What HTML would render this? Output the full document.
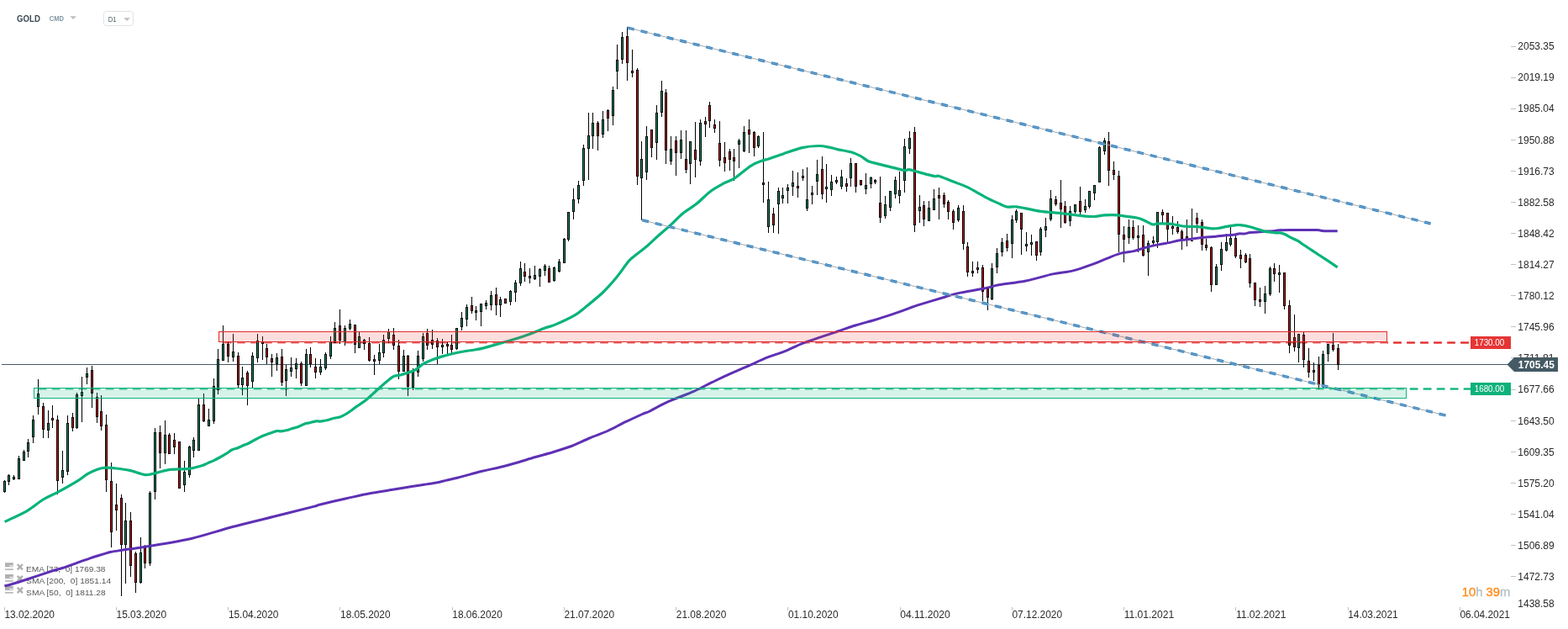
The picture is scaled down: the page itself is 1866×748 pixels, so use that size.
<!DOCTYPE html>
<html lang="en"><head><meta charset="utf-8"><title>GOLD D1</title>
<style>html,body{margin:0;padding:0;background:#fff;}body{width:1866px;height:748px;overflow:hidden;}svg{display:block;font-family:"Liberation Sans", sans-serif;}</style></head><body>
<svg width="1866" height="748" viewBox="0 0 1866 748">
<rect width="1866" height="748" fill="#fff"/>
<g id="legend" font-size="9.7" fill="#585858">
<g fill="#b0b0b0"><rect x="6" y="669.2" width="9.8" height="5.1"/><rect x="6" y="676.4" width="9.8" height="1.5"/></g>
<rect x="11.3" y="672.4" width="4.5" height="1" fill="#fff"/>
<path d="M20.7 671.0l6.2 6.4M26.9 671.0l-6.2 6.4" stroke="#b0b0b0" stroke-width="2.5" fill="none"/>
<text x="31.1" y="679.9" xml:space="preserve" textLength="94.4" lengthAdjust="spacingAndGlyphs">EMA [33,  0] 1769.38</text>
<g fill="#b0b0b0"><rect x="6" y="683.0" width="9.8" height="5.1"/><rect x="6" y="690.2" width="9.8" height="1.5"/></g>
<rect x="11.3" y="686.2" width="4.5" height="1" fill="#fff"/>
<path d="M20.7 684.8l6.2 6.4M26.9 684.8l-6.2 6.4" stroke="#b0b0b0" stroke-width="2.5" fill="none"/>
<text x="31.1" y="693.7" xml:space="preserve" textLength="101" lengthAdjust="spacingAndGlyphs">SMA [200,  0] 1851.14</text>
<g fill="#b0b0b0"><rect x="6" y="696.9" width="9.8" height="5.1"/><rect x="6" y="704.1" width="9.8" height="1.5"/></g>
<rect x="11.3" y="700.1" width="4.5" height="1" fill="#fff"/>
<path d="M20.7 698.7l6.2 6.4M26.9 698.7l-6.2 6.4" stroke="#b0b0b0" stroke-width="2.5" fill="none"/>
<text x="31.1" y="707.6" xml:space="preserve" textLength="94.6" lengthAdjust="spacingAndGlyphs">SMA [50,  0] 1811.28</text>
</g>
<line x1="261" y1="407.5" x2="1750" y2="407.5" stroke="#e32b2b" stroke-width="2" stroke-dasharray="9.6 6.4" stroke-dashoffset="-5.2" opacity="0.75"/>
<line x1="1651" y1="407.5" x2="1750" y2="407.5" stroke="#e32b2b" stroke-width="2" stroke-dasharray="9.6 6.4" stroke-dashoffset="8.8"/>
<line x1="41" y1="462.5" x2="1750" y2="462.5" stroke="#10b47c" stroke-width="2" stroke-dasharray="9.6 6.4" stroke-dashoffset="-4.8" opacity="0.75"/>
<line x1="1674" y1="462.5" x2="1750" y2="462.5" stroke="#10b47c" stroke-width="2" stroke-dasharray="9.6 6.4" stroke-dashoffset="12.2"/>
<rect x="2" y="433" width="1793" height="1" fill="#455a64" shape-rendering="crispEdges"/>
<g id="candles" shape-rendering="crispEdges">
<path fill="#000" d="M5 571h1v15h-1zM10 564h1v13h-1zM16 565h1v6h-1zM22 542h1v28h-1zM28 535h1v13h-1zM33 522h1v22h-1zM39 494h1v33h-1zM45 451h1v42h-1zM51 479h1v42h-1zM57 488h1v33h-1zM62 482h1v27h-1zM68 494h1v94h-1zM74 536h1v39h-1zM80 494h1v71h-1zM86 491h1v22h-1zM91 467h1v43h-1zM97 448h1v54h-1zM103 437h1v20h-1zM109 435h1v50h-1zM115 467h1v36h-1zM120 470h1v42h-1zM126 493h1v92h-1zM132 550h1v101h-1zM138 575h1v56h-1zM144 588h1v121h-1zM149 598h1v96h-1zM155 609h1v77h-1zM161 656h1v49h-1zM167 639h1v55h-1zM172 648h1v28h-1zM178 584h1v89h-1zM184 509h1v85h-1zM190 506h1v51h-1zM196 500h1v52h-1zM201 515h1v25h-1zM207 515h1v25h-1zM213 525h1v56h-1zM219 548h1v37h-1zM225 530h1v38h-1zM230 520h1v24h-1zM236 474h1v62h-1zM242 468h1v34h-1zM248 486h1v21h-1zM254 450h1v54h-1zM259 415h1v54h-1zM265 387h1v42h-1zM271 407h1v24h-1zM277 397h1v33h-1zM283 419h1v42h-1zM288 436h1v34h-1zM294 441h1v41h-1zM300 419h1v42h-1zM306 397h1v34h-1zM312 400h1v28h-1zM317 409h1v24h-1zM323 421h1v27h-1zM329 420h1v21h-1zM335 415h1v44h-1zM340 434h1v37h-1zM346 425h1v23h-1zM352 426h1v24h-1zM358 430h1v29h-1zM364 415h1v44h-1zM369 413h1v24h-1zM375 426h1v24h-1zM381 427h1v19h-1zM387 419h1v21h-1zM393 400h1v27h-1zM398 383h1v25h-1zM404 368h1v41h-1zM410 387h1v24h-1zM416 380h1v13h-1zM422 386h1v34h-1zM427 395h1v19h-1zM433 403h1v13h-1zM439 401h1v29h-1zM445 422h1v24h-1zM451 409h1v24h-1zM456 398h1v27h-1zM462 391h1v17h-1zM468 390h1v26h-1zM474 404h1v47h-1zM480 416h1v26h-1zM485 422h1v49h-1zM491 438h1v26h-1zM497 417h1v31h-1zM503 396h1v34h-1zM508 391h1v25h-1zM514 392h1v23h-1zM520 402h1v31h-1zM526 403h1v18h-1zM532 407h1v15h-1zM537 398h1v22h-1zM543 390h1v26h-1zM549 371h1v22h-1zM555 362h1v26h-1zM561 353h1v20h-1zM566 364h1v17h-1zM572 361h1v27h-1zM578 357h1v11h-1zM584 346h1v23h-1zM590 342h1v33h-1zM595 353h1v24h-1zM601 355h1v6h-1zM607 345h1v18h-1zM613 333h1v26h-1zM619 311h1v29h-1zM624 313h1v22h-1zM630 319h1v18h-1zM636 316h1v17h-1zM642 319h1v22h-1zM648 314h1v14h-1zM653 316h1v20h-1zM659 317h1v18h-1zM665 308h1v16h-1zM671 283h1v30h-1zM676 252h1v35h-1zM682 224h1v37h-1zM688 215h1v27h-1zM694 172h1v49h-1zM700 134h1v80h-1zM705 134h1v43h-1zM711 144h1v35h-1zM717 132h1v32h-1zM723 130h1v26h-1zM729 103h1v46h-1zM734 53h1v53h-1zM740 38h1v38h-1zM746 32h1v64h-1zM752 59h1v33h-1zM758 81h1v139h-1zM763 168h1v94h-1zM769 150h1v64h-1zM775 154h1v33h-1zM781 125h1v65h-1zM787 96h1v43h-1zM792 106h1v89h-1zM798 162h1v34h-1zM804 162h1v47h-1zM810 155h1v34h-1zM816 155h1v51h-1zM821 168h1v51h-1zM827 145h1v66h-1zM833 142h1v55h-1zM839 139h1v24h-1zM844 121h1v31h-1zM850 142h1v16h-1zM856 144h1v54h-1zM862 169h1v35h-1zM868 177h1v26h-1zM873 177h1v38h-1zM879 165h1v35h-1zM885 150h1v31h-1zM891 142h1v40h-1zM897 156h1v30h-1zM902 161h1v15h-1zM908 157h1v84h-1zM914 216h1v61h-1zM920 247h1v30h-1zM926 223h1v55h-1zM931 223h1v19h-1zM937 219h1v23h-1zM943 203h1v30h-1zM949 205h1v30h-1zM955 201h1v14h-1zM960 199h1v52h-1zM966 221h1v22h-1zM972 190h1v42h-1zM978 186h1v51h-1zM983 195h1v46h-1zM989 208h1v25h-1zM995 210h1v9h-1zM1001 202h1v23h-1zM1007 212h1v16h-1zM1012 188h1v34h-1zM1018 194h1v35h-1zM1024 214h1v7h-1zM1030 206h1v25h-1zM1036 210h1v14h-1zM1041 213h1v6h-1zM1047 210h1v55h-1zM1053 233h1v27h-1zM1059 227h1v24h-1zM1065 210h1v26h-1zM1070 204h1v38h-1zM1076 165h1v64h-1zM1082 156h1v27h-1zM1088 151h1v125h-1zM1094 232h1v33h-1zM1099 239h1v30h-1zM1105 239h1v24h-1zM1111 225h1v25h-1zM1117 223h1v38h-1zM1123 229h1v18h-1zM1128 238h1v23h-1zM1134 249h1v24h-1zM1140 244h1v20h-1zM1146 244h1v53h-1zM1151 288h1v41h-1zM1157 311h1v18h-1zM1163 311h1v14h-1zM1169 315h1v43h-1zM1175 341h1v28h-1zM1180 313h1v44h-1zM1186 295h1v30h-1zM1192 283h1v22h-1zM1198 278h1v21h-1zM1204 256h1v51h-1zM1209 249h1v16h-1zM1215 253h1v50h-1zM1221 276h1v23h-1zM1227 279h1v25h-1zM1233 287h1v23h-1zM1238 270h1v34h-1zM1244 259h1v23h-1zM1250 226h1v37h-1zM1256 233h1v12h-1zM1262 214h1v57h-1zM1267 239h1v27h-1zM1273 245h1v24h-1zM1279 243h1v11h-1zM1285 222h1v33h-1zM1291 237h1v16h-1zM1296 227h1v21h-1zM1302 220h1v18h-1zM1308 174h1v43h-1zM1314 164h1v20h-1zM1319 157h1v64h-1zM1325 192h1v22h-1zM1331 203h1v97h-1zM1337 269h1v43h-1zM1343 261h1v29h-1zM1348 262h1v23h-1zM1354 268h1v32h-1zM1360 268h1v37h-1zM1366 286h1v42h-1zM1372 281h1v11h-1zM1377 252h1v43h-1zM1383 249h1v17h-1zM1389 253h1v36h-1zM1395 257h1v22h-1zM1401 263h1v15h-1zM1406 273h1v24h-1zM1412 261h1v32h-1zM1418 248h1v39h-1zM1424 253h1v24h-1zM1430 261h1v37h-1zM1435 284h1v14h-1zM1441 293h1v54h-1zM1447 314h1v25h-1zM1453 288h1v34h-1zM1459 278h1v21h-1zM1464 270h1v23h-1zM1470 280h1v27h-1zM1476 297h1v22h-1zM1482 301h1v12h-1zM1487 302h1v40h-1zM1493 336h1v28h-1zM1499 342h1v23h-1zM1505 340h1v33h-1zM1511 317h1v35h-1zM1516 313h1v22h-1zM1522 315h1v33h-1zM1528 324h1v44h-1zM1534 357h1v63h-1zM1540 374h1v44h-1zM1545 397h1v34h-1zM1551 395h1v42h-1zM1557 414h1v35h-1zM1563 431h1v22h-1zM1569 424h1v39h-1zM1574 417h1v44h-1zM1580 409h1v21h-1zM1586 396h1v22h-1zM1592 409h1v31h-1z"/>
<path fill="#000" d="M4 572h3v13h-3zM9 565h3v8h-3zM15 567h3v3h-3zM21 545h3v25h-3zM27 537h3v11h-3zM32 526h3v11h-3zM38 499h3v21h-3zM44 468h3v16h-3zM50 483h3v28h-3zM56 503h3v9h-3zM61 497h3v3h-3zM67 499h3v73h-3zM73 559h3v9h-3zM79 503h3v58h-3zM85 496h3v13h-3zM90 469h3v40h-3zM96 466h3v5h-3zM102 444h3v5h-3zM108 440h3v28h-3zM114 472h3v24h-3zM119 489h3v18h-3zM125 505h3v66h-3zM131 572h3v61h-3zM137 600h3v7h-3zM143 592h3v56h-3zM148 619h3v29h-3zM154 619h3v54h-3zM160 658h3v35h-3zM166 657h3v36h-3zM171 651h3v19h-3zM177 586h3v84h-3zM183 514h3v71h-3zM189 514h3v25h-3zM195 517h3v22h-3zM200 517h3v23h-3zM206 523h3v9h-3zM212 525h3v56h-3zM218 561h3v16h-3zM224 531h3v34h-3zM229 523h3v13h-3zM235 481h3v55h-3zM241 481h3v20h-3zM247 499h3v8h-3zM253 459h3v42h-3zM258 427h3v37h-3zM264 409h3v20h-3zM270 409h3v15h-3zM276 418h3v7h-3zM282 423h3v35h-3zM287 449h3v9h-3zM293 443h3v16h-3zM299 423h3v31h-3zM305 405h3v21h-3zM311 406h3v3h-3zM316 414h3v11h-3zM322 426h3v5h-3zM328 425h3v8h-3zM334 424h3v31h-3zM339 439h3v14h-3zM345 437h3v5h-3zM351 432h3v7h-3zM357 432h3v24h-3zM363 421h3v38h-3zM368 421h3v12h-3zM374 436h3v7h-3zM380 436h3v7h-3zM386 421h3v17h-3zM392 406h3v18h-3zM397 390h3v18h-3zM403 387h3v18h-3zM409 390h3v17h-3zM415 385h3v6h-3zM421 386h3v24h-3zM426 400h3v14h-3zM432 404h3v5h-3zM438 408h3v21h-3zM444 427h3v3h-3zM450 419h3v10h-3zM455 404h3v16h-3zM461 394h3v9h-3zM467 398h3v13h-3zM473 411h3v31h-3zM479 423h3v19h-3zM484 423h3v37h-3zM490 442h3v19h-3zM496 423h3v20h-3zM502 400h3v27h-3zM507 396h3v15h-3zM513 404h3v6h-3zM519 405h3v8h-3zM525 410h3v3h-3zM531 409h3v3h-3zM536 410h3v6h-3zM542 390h3v25h-3zM548 378h3v11h-3zM554 365h3v15h-3zM560 363h3v7h-3zM565 369h3v3h-3zM571 361h3v10h-3zM577 360h3v4h-3zM583 351h3v12h-3zM589 350h3v13h-3zM594 356h3v7h-3zM600 355h3v6h-3zM606 346h3v13h-3zM612 336h3v12h-3zM618 319h3v18h-3zM623 323h3v6h-3zM629 328h3v3h-3zM635 327h3v5h-3zM641 320h3v9h-3zM647 316h3v6h-3zM652 319h3v17h-3zM658 318h3v16h-3zM664 311h3v12h-3zM670 284h3v29h-3zM675 252h3v33h-3zM681 237h3v15h-3zM687 220h3v17h-3zM693 176h3v39h-3zM699 161h3v16h-3zM704 146h3v16h-3zM710 146h3v16h-3zM716 142h3v18h-3zM722 131h3v10h-3zM728 107h3v31h-3zM733 71h3v14h-3zM739 44h3v27h-3zM745 43h3v32h-3zM751 84h3v3h-3zM757 83h3v127h-3zM762 189h3v23h-3zM768 162h3v43h-3zM774 154h3v22h-3zM780 134h3v36h-3zM786 108h3v26h-3zM791 110h3v69h-3zM797 177h3v15h-3zM803 167h3v15h-3zM809 166h3v16h-3zM815 189h3v13h-3zM820 168h3v27h-3zM826 178h3v12h-3zM832 146h3v46h-3zM838 144h3v4h-3zM843 125h3v19h-3zM849 148h3v5h-3zM855 170h3v21h-3zM861 187h3v7h-3zM867 180h3v10h-3zM872 187h3v5h-3zM878 167h3v5h-3zM884 157h3v23h-3zM890 154h3v6h-3zM896 157h3v19h-3zM901 162h3v12h-3zM907 217h3v3h-3zM913 237h3v33h-3zM919 254h3v14h-3zM925 227h3v16h-3zM930 232h3v4h-3zM936 223h3v4h-3zM942 217h3v5h-3zM948 221h3v3h-3zM954 209h3v3h-3zM959 237h3v11h-3zM965 229h3v3h-3zM971 207h3v9h-3zM977 201h3v30h-3zM982 222h3v3h-3zM988 216h3v10h-3zM994 214h3v3h-3zM1000 210h3v12h-3zM1006 218h3v4h-3zM1011 194h3v18h-3zM1017 194h3v28h-3zM1023 214h3v6h-3zM1029 220h3v5h-3zM1035 211h3v8h-3zM1040 214h3v3h-3zM1046 241h3v18h-3zM1052 243h3v14h-3zM1058 227h3v20h-3zM1064 214h3v17h-3zM1069 226h3v7h-3zM1075 174h3v41h-3zM1081 164h3v13h-3zM1087 157h3v111h-3zM1093 246h3v5h-3zM1098 244h3v17h-3zM1104 247h3v16h-3zM1110 236h3v14h-3zM1116 232h3v4h-3zM1122 232h3v11h-3zM1127 240h3v12h-3zM1133 251h3v14h-3zM1139 247h3v15h-3zM1145 251h3v39h-3zM1150 293h3v31h-3zM1156 322h3v3h-3zM1162 318h3v3h-3zM1168 318h3v29h-3zM1174 343h3v11h-3zM1179 319h3v37h-3zM1185 301h3v17h-3zM1191 288h3v12h-3zM1197 286h3v9h-3zM1203 261h3v29h-3zM1208 251h3v11h-3zM1214 253h3v20h-3zM1220 290h3v3h-3zM1226 288h3v3h-3zM1232 287h3v17h-3zM1237 272h3v28h-3zM1243 269h3v5h-3zM1249 236h3v25h-3zM1255 237h3v6h-3zM1261 241h3v8h-3zM1266 245h3v20h-3zM1272 251h3v12h-3zM1278 243h3v9h-3zM1284 239h3v13h-3zM1290 245h3v5h-3zM1295 227h3v19h-3zM1301 220h3v10h-3zM1307 175h3v42h-3zM1313 167h3v13h-3zM1318 168h3v35h-3zM1324 202h3v6h-3zM1330 209h3v70h-3zM1336 279h3v6h-3zM1342 270h3v13h-3zM1347 270h3v13h-3zM1353 280h3v3h-3zM1359 279h3v25h-3zM1365 289h3v11h-3zM1371 286h3v3h-3zM1376 252h3v36h-3zM1382 252h3v4h-3zM1388 253h3v20h-3zM1394 269h3v3h-3zM1400 270h3v6h-3zM1405 275h3v9h-3zM1411 281h3v4h-3zM1417 286h3v1h-3zM1423 259h3v7h-3zM1429 264h3v27h-3zM1434 291h3v4h-3zM1440 294h3v45h-3zM1446 317h3v22h-3zM1452 296h3v19h-3zM1458 288h3v10h-3zM1463 283h3v8h-3zM1469 283h3v22h-3zM1475 303h3v5h-3zM1481 303h3v9h-3zM1486 307h3v30h-3zM1492 336h3v21h-3zM1498 356h3v3h-3zM1504 349h3v10h-3zM1510 319h3v31h-3zM1515 319h3v7h-3zM1521 324h3v3h-3zM1527 324h3v40h-3zM1533 363h3v48h-3zM1539 401h3v12h-3zM1544 397h3v17h-3zM1550 398h3v30h-3zM1556 429h3v14h-3zM1562 440h3v3h-3zM1568 434h3v24h-3zM1573 421h3v37h-3zM1579 409h3v12h-3zM1585 410h3v6h-3zM1591 414h3v20h-3z"/>
<path fill="#0f9168" d="M5 573h1v11h-1zM10 566h1v6h-1zM16 568h1v1h-1zM22 546h1v23h-1zM28 538h1v9h-1zM33 527h1v9h-1zM39 500h1v19h-1zM45 469h1v14h-1zM57 504h1v7h-1zM74 560h1v7h-1zM80 504h1v56h-1zM91 470h1v38h-1zM97 467h1v3h-1zM103 445h1v3h-1zM149 620h1v27h-1zM167 658h1v34h-1zM178 587h1v82h-1zM184 515h1v69h-1zM196 518h1v20h-1zM219 562h1v14h-1zM225 532h1v32h-1zM230 524h1v11h-1zM236 482h1v53h-1zM248 500h1v6h-1zM254 460h1v40h-1zM259 428h1v35h-1zM265 410h1v18h-1zM277 419h1v5h-1zM288 450h1v7h-1zM300 424h1v29h-1zM306 406h1v19h-1zM329 426h1v6h-1zM340 440h1v12h-1zM346 438h1v3h-1zM352 433h1v5h-1zM364 422h1v36h-1zM381 437h1v5h-1zM387 422h1v15h-1zM393 407h1v16h-1zM398 391h1v16h-1zM410 391h1v15h-1zM416 386h1v4h-1zM427 401h1v12h-1zM451 420h1v8h-1zM456 405h1v14h-1zM462 395h1v7h-1zM480 424h1v17h-1zM491 443h1v17h-1zM497 424h1v18h-1zM503 401h1v25h-1zM526 411h1v1h-1zM543 391h1v23h-1zM549 379h1v9h-1zM555 366h1v13h-1zM566 370h1v1h-1zM572 362h1v8h-1zM578 361h1v2h-1zM584 352h1v10h-1zM595 357h1v5h-1zM607 347h1v11h-1zM613 337h1v10h-1zM619 320h1v16h-1zM636 328h1v3h-1zM642 321h1v7h-1zM648 317h1v4h-1zM659 319h1v14h-1zM665 312h1v10h-1zM671 285h1v27h-1zM676 253h1v31h-1zM682 238h1v13h-1zM688 221h1v15h-1zM694 177h1v37h-1zM700 162h1v14h-1zM705 147h1v14h-1zM717 143h1v16h-1zM729 108h1v29h-1zM734 72h1v12h-1zM740 45h1v25h-1zM763 190h1v21h-1zM769 163h1v41h-1zM781 135h1v34h-1zM787 109h1v24h-1zM798 178h1v13h-1zM810 167h1v14h-1zM821 169h1v25h-1zM833 147h1v44h-1zM879 168h1v3h-1zM885 158h1v21h-1zM902 163h1v10h-1zM914 238h1v31h-1zM926 228h1v14h-1zM931 233h1v2h-1zM937 224h1v2h-1zM943 218h1v3h-1zM960 238h1v9h-1zM966 230h1v1h-1zM972 208h1v7h-1zM983 223h1v1h-1zM989 217h1v8h-1zM1001 211h1v10h-1zM1012 195h1v16h-1zM1030 221h1v3h-1zM1036 212h1v6h-1zM1053 244h1v12h-1zM1059 228h1v18h-1zM1065 215h1v15h-1zM1070 227h1v5h-1zM1076 175h1v39h-1zM1082 165h1v11h-1zM1094 247h1v3h-1zM1105 248h1v14h-1zM1111 237h1v12h-1zM1140 248h1v13h-1zM1180 320h1v35h-1zM1186 302h1v15h-1zM1192 289h1v10h-1zM1204 262h1v27h-1zM1209 252h1v9h-1zM1221 291h1v1h-1zM1227 289h1v1h-1zM1238 273h1v26h-1zM1244 270h1v3h-1zM1250 237h1v23h-1zM1273 252h1v10h-1zM1279 244h1v7h-1zM1291 246h1v3h-1zM1296 228h1v17h-1zM1302 221h1v8h-1zM1308 176h1v40h-1zM1314 168h1v11h-1zM1343 271h1v11h-1zM1354 281h1v1h-1zM1366 290h1v9h-1zM1372 287h1v1h-1zM1377 253h1v34h-1zM1447 318h1v20h-1zM1453 297h1v17h-1zM1459 289h1v8h-1zM1464 284h1v6h-1zM1505 350h1v8h-1zM1511 320h1v29h-1zM1522 325h1v1h-1zM1545 398h1v15h-1zM1574 422h1v35h-1zM1580 410h1v10h-1z"/>
<path fill="#d40000" d="M51 484h1v26h-1zM62 498h1v1h-1zM68 500h1v71h-1zM86 497h1v11h-1zM109 441h1v26h-1zM115 473h1v22h-1zM120 490h1v16h-1zM126 506h1v64h-1zM132 573h1v59h-1zM138 601h1v5h-1zM144 593h1v54h-1zM155 620h1v52h-1zM161 659h1v33h-1zM172 652h1v17h-1zM190 515h1v23h-1zM201 518h1v21h-1zM207 524h1v7h-1zM213 526h1v54h-1zM242 482h1v18h-1zM271 410h1v13h-1zM283 424h1v33h-1zM294 444h1v14h-1zM312 407h1v1h-1zM317 415h1v9h-1zM323 427h1v3h-1zM335 425h1v29h-1zM358 433h1v22h-1zM369 422h1v10h-1zM375 437h1v5h-1zM404 388h1v16h-1zM422 387h1v22h-1zM433 405h1v3h-1zM439 409h1v19h-1zM445 428h1v1h-1zM468 399h1v11h-1zM474 412h1v29h-1zM485 424h1v35h-1zM508 397h1v13h-1zM514 405h1v4h-1zM520 406h1v6h-1zM532 410h1v1h-1zM537 411h1v4h-1zM561 364h1v5h-1zM590 351h1v11h-1zM601 356h1v4h-1zM624 324h1v4h-1zM630 329h1v1h-1zM653 320h1v15h-1zM711 147h1v14h-1zM723 132h1v8h-1zM746 44h1v30h-1zM752 85h1v1h-1zM758 84h1v125h-1zM775 155h1v20h-1zM792 111h1v67h-1zM804 168h1v13h-1zM816 190h1v11h-1zM827 179h1v10h-1zM839 145h1v2h-1zM844 126h1v17h-1zM850 149h1v3h-1zM856 171h1v19h-1zM862 188h1v5h-1zM868 181h1v8h-1zM873 188h1v3h-1zM891 155h1v4h-1zM897 158h1v17h-1zM908 218h1v1h-1zM920 255h1v12h-1zM949 222h1v1h-1zM955 210h1v1h-1zM978 202h1v28h-1zM995 215h1v1h-1zM1007 219h1v2h-1zM1018 195h1v26h-1zM1024 215h1v4h-1zM1041 215h1v1h-1zM1047 242h1v16h-1zM1088 158h1v109h-1zM1099 245h1v15h-1zM1117 233h1v2h-1zM1123 233h1v9h-1zM1128 241h1v10h-1zM1134 252h1v12h-1zM1146 252h1v37h-1zM1151 294h1v29h-1zM1157 323h1v1h-1zM1163 319h1v1h-1zM1169 319h1v27h-1zM1175 344h1v9h-1zM1198 287h1v7h-1zM1215 254h1v18h-1zM1233 288h1v15h-1zM1256 238h1v4h-1zM1262 242h1v6h-1zM1267 246h1v18h-1zM1285 240h1v11h-1zM1319 169h1v33h-1zM1325 203h1v4h-1zM1331 210h1v68h-1zM1337 280h1v4h-1zM1348 271h1v11h-1zM1360 280h1v23h-1zM1383 253h1v2h-1zM1389 254h1v18h-1zM1395 270h1v1h-1zM1401 271h1v4h-1zM1406 276h1v7h-1zM1412 282h1v2h-1zM1424 260h1v5h-1zM1430 265h1v25h-1zM1435 292h1v2h-1zM1441 295h1v43h-1zM1470 284h1v20h-1zM1476 304h1v3h-1zM1482 304h1v7h-1zM1487 308h1v28h-1zM1493 337h1v19h-1zM1499 357h1v1h-1zM1516 320h1v5h-1zM1528 325h1v38h-1zM1534 364h1v46h-1zM1540 402h1v10h-1zM1551 399h1v28h-1zM1557 430h1v12h-1zM1563 441h1v1h-1zM1569 435h1v22h-1zM1586 411h1v4h-1zM1592 415h1v18h-1z"/>
</g>
<path d="M5.4 697.0C8.0 696.3 15.4 694.4 21.4 692.5C27.4 690.6 36.0 687.6 42.9 685.3C49.8 683.0 59.2 679.9 64.3 678.3C69.4 676.7 70.7 676.7 75.0 675.3C79.3 673.9 85.9 671.4 91.1 669.6C96.3 667.8 103.2 665.2 107.2 663.8C111.2 662.4 113.3 661.8 116.0 661.0C118.7 660.2 121.4 659.4 124.0 658.6C126.6 657.8 128.8 657.0 132.2 656.3C135.6 655.6 141.1 654.9 145.0 654.3C148.9 653.7 150.6 653.5 156.3 652.7C162.0 651.9 168.8 651.0 180.4 649.0C192.0 647.0 213.2 643.8 228.6 640.2C244.0 636.6 261.4 630.6 276.8 626.5C292.2 622.4 309.6 618.4 325.0 614.5C340.4 610.6 364.5 604.7 373.3 602.4C382.1 600.1 373.8 601.7 380.0 600.2C386.2 598.7 402.6 594.9 412.2 592.8C421.8 590.7 431.4 588.4 440.0 586.8C448.6 585.2 457.5 584.0 465.7 582.6C473.9 581.2 482.9 579.7 491.5 578.3C500.1 576.9 513.1 575.1 519.3 574.0C525.5 572.9 526.0 572.4 530.1 571.4C534.2 570.4 538.3 569.7 545.1 568.0C551.9 566.3 565.0 562.5 572.9 560.5C580.8 558.5 587.5 557.5 594.4 555.8C601.3 554.1 609.0 552.0 615.8 550.0C622.6 548.0 630.3 545.5 637.2 543.5C644.1 541.5 651.8 539.6 658.7 537.5C665.6 535.4 673.3 533.1 680.1 530.5C686.9 527.9 694.6 523.9 701.5 521.0C708.4 518.1 716.1 515.6 723.0 512.5C729.9 509.4 737.5 505.0 744.4 501.7C751.3 498.4 761.5 493.8 765.9 491.8C770.3 489.8 767.8 491.7 772.2 489.5C776.6 487.3 785.0 482.2 793.6 478.3C802.2 474.4 817.1 469.2 825.7 465.4C834.3 461.6 840.3 458.0 847.2 454.7C854.1 451.4 861.7 447.7 868.6 444.6C875.5 441.5 883.2 438.4 890.1 435.4C897.0 432.4 904.7 428.5 911.5 425.7C918.3 422.9 926.0 420.9 932.9 418.2C939.8 415.5 947.5 411.3 954.4 408.6C961.3 405.9 969.0 403.4 975.8 401.1C982.6 398.8 990.3 396.3 997.2 394.0C1004.1 391.7 1011.8 388.8 1018.7 386.7C1025.6 384.6 1033.3 382.7 1040.1 380.7C1046.9 378.7 1054.6 376.2 1061.5 373.9C1068.4 371.6 1078.1 368.0 1083.0 366.2C1087.9 364.4 1085.6 365.0 1092.2 362.9C1098.8 360.8 1116.6 355.5 1124.3 353.2C1132.0 350.9 1132.7 350.3 1140.4 348.6C1148.1 346.9 1164.8 344.4 1172.5 342.8C1180.2 341.2 1180.9 340.2 1188.6 338.8C1196.3 337.4 1210.5 336.1 1220.8 334.0C1231.1 331.9 1243.9 327.8 1252.9 325.9C1261.9 324.0 1269.3 323.8 1277.0 321.9C1284.7 320.0 1294.8 316.2 1301.2 313.9C1307.6 311.6 1312.1 309.4 1317.2 307.4C1322.3 305.4 1328.1 302.8 1333.3 301.4C1338.5 300.0 1344.7 299.7 1349.4 298.6C1354.1 297.5 1357.8 295.8 1362.5 294.6C1367.2 293.4 1374.0 291.9 1378.6 290.9C1383.2 289.9 1387.8 289.3 1391.4 288.6C1395.0 287.9 1398.0 286.9 1401.1 286.3C1404.2 285.7 1407.6 285.4 1410.7 285.0C1413.8 284.6 1417.3 284.2 1420.4 283.8C1423.5 283.4 1426.4 283.0 1430.0 282.6C1433.6 282.2 1438.1 281.9 1442.9 281.5C1447.7 281.1 1455.7 280.2 1460.0 279.8C1464.3 279.4 1467.6 279.2 1470.0 278.9C1472.4 278.6 1473.6 277.9 1475.3 277.8C1477.0 277.7 1478.7 278.2 1480.7 278.0C1482.7 277.8 1485.0 276.8 1487.6 276.5C1490.2 276.2 1493.5 276.3 1496.7 276.1C1499.9 275.9 1504.4 275.3 1507.4 275.1C1510.4 274.9 1513.1 275.0 1515.5 274.8C1517.9 274.6 1517.7 273.9 1522.4 273.7C1527.1 273.5 1537.9 273.6 1545.1 273.6C1552.3 273.6 1562.7 273.4 1567.6 273.6C1572.5 273.8 1571.7 274.5 1575.6 274.7C1579.5 274.9 1589.1 274.7 1591.7 274.7" fill="none" stroke="#5e30b4" stroke-width="3" stroke-linejoin="round"/>
<path d="M5.6 620.5C9.9 618.4 24.9 611.8 32.2 607.6C39.5 603.4 45.5 597.6 51.4 594.0C57.3 590.4 62.4 588.7 69.1 585.1C75.8 581.5 87.5 574.9 93.2 571.4C98.9 567.9 100.9 565.5 104.5 563.4C108.1 561.3 112.5 559.5 115.8 558.3C119.1 557.1 121.8 556.4 125.4 556.2C129.0 556.0 133.7 556.5 138.3 557.0C142.9 557.5 148.8 558.2 154.3 559.4C159.8 560.6 167.9 564.2 172.8 564.7C177.7 565.2 180.4 563.6 184.9 562.6C189.4 561.6 194.6 559.4 201.0 558.6C207.4 557.8 218.7 558.1 225.1 557.3C231.5 556.5 237.6 554.5 241.2 553.4C244.8 552.3 245.5 551.5 247.5 550.6C249.5 549.7 251.7 549.0 253.9 547.9C256.1 546.8 259.0 545.3 261.4 544.0C263.8 542.7 266.5 541.2 268.9 539.7C271.3 538.2 274.2 535.9 276.4 534.8C278.6 533.7 280.8 533.5 282.9 532.7C285.0 531.9 287.3 530.6 289.3 529.7C291.3 528.8 293.3 528.5 295.7 527.3C298.1 526.1 301.5 524.0 304.3 522.5C307.1 521.0 310.3 519.3 312.9 518.2C315.5 517.1 317.8 516.5 320.4 515.6C323.0 514.7 326.8 513.0 329.0 512.6C331.2 512.2 332.4 513.0 334.3 512.9C336.2 512.8 338.6 512.3 340.7 511.8C342.8 511.3 345.1 510.3 347.2 509.7C349.3 509.1 351.0 508.9 353.6 508.0C356.2 507.1 360.9 504.6 363.3 503.8C365.7 503.0 366.6 503.2 368.6 502.7C370.6 502.2 374.0 501.1 376.1 500.8C378.2 500.5 379.3 501.3 381.5 501.1C383.7 500.9 387.5 500.1 390.1 499.5C392.7 498.9 395.2 497.9 397.6 497.3C400.0 496.7 402.9 496.5 405.1 495.7C407.3 494.9 409.5 493.7 411.5 492.5C413.5 491.3 415.8 489.7 417.9 488.2C420.0 486.7 422.3 484.9 424.4 483.4C426.5 481.9 428.8 480.5 430.8 479.1C432.8 477.7 434.8 476.2 437.0 474.4C439.2 472.6 441.4 470.5 444.3 467.9C447.2 465.3 451.2 461.4 455.0 458.2C458.8 455.0 464.5 449.8 467.9 447.8C471.3 445.8 472.4 447.2 476.5 446.0C480.6 444.8 489.2 442.3 493.8 440.0C498.4 437.7 499.9 434.5 505.1 431.9C510.3 429.3 518.8 426.1 526.0 423.9C533.2 421.7 543.7 419.5 550.1 418.2C556.5 416.9 561.4 416.7 566.2 415.8C571.0 414.9 570.9 415.1 580.0 412.6C589.1 410.1 611.9 403.6 622.9 400.0C633.9 396.4 642.7 392.3 648.6 390.1C654.5 387.9 654.2 388.8 659.9 386.4C665.6 384.0 678.1 378.3 684.0 374.9C689.9 371.5 691.4 369.6 696.8 365.2C702.2 360.8 711.8 353.2 717.7 347.5C723.6 341.8 729.4 335.1 733.8 329.8C738.2 324.5 742.3 318.2 745.1 314.6C747.9 311.0 747.4 310.9 751.5 307.3C755.6 303.7 765.6 296.4 770.8 292.0C776.0 287.6 779.4 283.8 783.7 280.0C788.0 276.2 792.8 272.3 797.5 268.1C802.2 263.9 807.9 257.7 812.9 253.6C817.9 249.5 823.9 246.4 829.0 242.3C834.1 238.2 839.9 231.8 845.0 227.9C850.1 224.0 856.5 220.7 861.1 218.2C865.7 215.7 868.8 215.4 874.0 212.1C879.2 208.8 888.2 200.6 893.3 197.3C898.4 194.0 902.5 192.9 906.1 191.5C909.7 190.1 911.9 189.9 916.1 188.5C920.3 187.1 926.0 185.0 932.2 182.9C938.4 180.8 948.0 177.1 954.7 175.6C961.4 174.1 968.9 173.6 974.0 173.5C979.1 173.4 983.2 174.4 986.8 175.1C990.4 175.8 992.4 176.7 996.5 177.6C1000.6 178.5 1008.1 179.6 1012.5 180.8C1016.9 182.0 1020.5 183.6 1023.8 185.3C1027.1 187.0 1030.1 190.2 1033.4 191.7C1036.7 193.2 1040.3 193.7 1044.7 194.9C1049.1 196.1 1055.7 197.7 1060.8 198.9C1065.9 200.1 1073.5 202.2 1076.8 202.6C1080.1 203.0 1079.1 201.4 1081.7 201.7C1084.3 202.0 1088.0 203.3 1092.9 204.6C1097.8 205.9 1108.3 208.9 1112.2 209.6C1116.1 210.3 1113.7 208.3 1117.0 209.2C1120.3 210.1 1127.7 213.4 1133.1 215.5C1138.5 217.6 1144.4 219.3 1150.8 222.4C1157.2 225.5 1167.1 231.6 1173.3 234.8C1179.5 238.0 1185.4 240.5 1189.4 242.3C1193.4 244.1 1195.1 245.4 1198.3 246.0C1201.5 246.6 1205.9 245.5 1209.5 245.8C1213.1 246.1 1216.4 247.1 1220.8 247.9C1225.2 248.7 1231.7 250.3 1236.8 251.1C1241.9 251.9 1247.7 252.2 1252.9 252.7C1258.1 253.2 1263.8 253.7 1269.0 254.3C1274.2 254.9 1279.9 255.9 1285.1 256.4C1290.3 256.9 1296.6 257.6 1301.2 257.5C1305.8 257.4 1310.1 256.2 1314.0 255.9C1317.9 255.6 1321.8 255.6 1325.3 255.7C1328.8 255.8 1331.7 256.2 1336.1 256.7C1340.5 257.2 1348.7 258.1 1352.9 259.0C1357.1 259.9 1359.5 261.2 1362.5 262.5C1365.5 263.8 1368.9 266.4 1371.5 266.9C1374.1 267.4 1375.4 266.0 1378.6 265.9C1381.8 265.8 1387.8 265.9 1391.4 266.2C1395.0 266.5 1398.0 267.2 1401.1 267.7C1404.2 268.2 1407.1 268.9 1410.7 269.2C1414.3 269.5 1420.0 269.4 1423.6 269.6C1427.2 269.8 1430.1 270.2 1433.2 270.6C1436.3 271.0 1440.3 271.8 1442.9 271.9C1445.5 272.0 1446.6 271.9 1449.3 271.5C1452.0 271.1 1456.7 270.0 1460.0 269.4C1463.3 268.8 1467.5 268.1 1470.0 267.8C1472.5 267.5 1473.1 267.3 1475.9 267.6C1478.7 267.9 1484.3 268.9 1487.6 269.7C1490.9 270.5 1493.9 271.7 1496.7 272.6C1499.5 273.5 1502.2 274.5 1504.8 275.1C1507.4 275.7 1510.7 275.8 1512.8 276.1C1514.9 276.4 1516.4 276.8 1518.1 276.9C1519.8 277.0 1521.8 276.6 1523.5 276.9C1525.2 277.2 1526.7 277.6 1528.8 278.5C1530.9 279.4 1534.2 281.5 1536.8 282.8C1539.4 284.1 1542.8 285.4 1544.9 286.6C1547.0 287.8 1547.4 288.5 1550.0 290.3C1552.6 292.1 1556.8 294.8 1561.2 297.7C1565.6 300.6 1572.3 305.0 1577.2 308.2C1582.1 311.4 1589.4 316.3 1591.7 317.8" fill="none" stroke="#08b37b" stroke-width="3.2" stroke-linejoin="round"/>
<line x1="746.4" y1="32.9" x2="1702.6" y2="265.9" stroke="#1c80d0" stroke-width="3.2" stroke-dasharray="8.2 7.8" stroke-dashoffset="-0.5"/>
<line x1="746.4" y1="32.9" x2="1702.6" y2="265.9" stroke="#a8a8a8" stroke-width="1"/>
<line x1="763.6" y1="261.6" x2="1720.8" y2="494.1" stroke="#1c80d0" stroke-width="3.2" stroke-dasharray="8.2 7.8" stroke-dashoffset="-0.5"/>
<line x1="763.6" y1="261.6" x2="1720.8" y2="494.1" stroke="#a8a8a8" stroke-width="1"/>
<rect x="260.5" y="394.5" width="1390" height="12" fill="rgba(229,57,53,0.17)" stroke="#e32b2b" stroke-width="1"/>
<rect x="40.5" y="461.5" width="1633" height="12" fill="rgba(16,180,124,0.17)" stroke="#10b47c" stroke-width="1"/>
<g id="yaxis" font-size="12" fill="#2a2a2a">
<rect x="1798" y="55" width="6" height="1" fill="#b5c7d0" shape-rendering="crispEdges"/>
<text x="1806.3" y="59.1" textLength="43.4" lengthAdjust="spacingAndGlyphs">2053.35</text>
<rect x="1798" y="92" width="6" height="1" fill="#b5c7d0" shape-rendering="crispEdges"/>
<text x="1806.3" y="96.2" textLength="43.4" lengthAdjust="spacingAndGlyphs">2019.19</text>
<rect x="1798" y="129" width="6" height="1" fill="#b5c7d0" shape-rendering="crispEdges"/>
<text x="1806.3" y="133.3" textLength="43.4" lengthAdjust="spacingAndGlyphs">1985.04</text>
<rect x="1798" y="166" width="6" height="1" fill="#b5c7d0" shape-rendering="crispEdges"/>
<text x="1806.3" y="170.5" textLength="43.4" lengthAdjust="spacingAndGlyphs">1950.88</text>
<rect x="1798" y="203" width="6" height="1" fill="#b5c7d0" shape-rendering="crispEdges"/>
<text x="1806.3" y="207.6" textLength="43.4" lengthAdjust="spacingAndGlyphs">1916.73</text>
<rect x="1798" y="240" width="6" height="1" fill="#b5c7d0" shape-rendering="crispEdges"/>
<text x="1806.3" y="244.7" textLength="43.4" lengthAdjust="spacingAndGlyphs">1882.58</text>
<rect x="1798" y="277" width="6" height="1" fill="#b5c7d0" shape-rendering="crispEdges"/>
<text x="1806.3" y="281.8" textLength="43.4" lengthAdjust="spacingAndGlyphs">1848.42</text>
<rect x="1798" y="314" width="6" height="1" fill="#b5c7d0" shape-rendering="crispEdges"/>
<text x="1806.3" y="318.9" textLength="43.4" lengthAdjust="spacingAndGlyphs">1814.27</text>
<rect x="1798" y="351" width="6" height="1" fill="#b5c7d0" shape-rendering="crispEdges"/>
<text x="1806.3" y="356.1" textLength="43.4" lengthAdjust="spacingAndGlyphs">1780.12</text>
<rect x="1798" y="388" width="6" height="1" fill="#b5c7d0" shape-rendering="crispEdges"/>
<text x="1806.3" y="393.2" textLength="43.4" lengthAdjust="spacingAndGlyphs">1745.96</text>
<rect x="1798" y="425" width="6" height="1" fill="#b5c7d0" shape-rendering="crispEdges"/>
<text x="1806.3" y="430.3" textLength="43.4" lengthAdjust="spacingAndGlyphs">1711.81</text>
<rect x="1798" y="463" width="6" height="1" fill="#b5c7d0" shape-rendering="crispEdges"/>
<text x="1806.3" y="467.4" textLength="43.4" lengthAdjust="spacingAndGlyphs">1677.66</text>
<rect x="1798" y="500" width="6" height="1" fill="#b5c7d0" shape-rendering="crispEdges"/>
<text x="1806.3" y="504.5" textLength="43.4" lengthAdjust="spacingAndGlyphs">1643.50</text>
<rect x="1798" y="537" width="6" height="1" fill="#b5c7d0" shape-rendering="crispEdges"/>
<text x="1806.3" y="541.7" textLength="43.4" lengthAdjust="spacingAndGlyphs">1609.35</text>
<rect x="1798" y="574" width="6" height="1" fill="#b5c7d0" shape-rendering="crispEdges"/>
<text x="1806.3" y="578.8" textLength="43.4" lengthAdjust="spacingAndGlyphs">1575.20</text>
<rect x="1798" y="611" width="6" height="1" fill="#b5c7d0" shape-rendering="crispEdges"/>
<text x="1806.3" y="615.9" textLength="43.4" lengthAdjust="spacingAndGlyphs">1541.04</text>
<rect x="1798" y="648" width="6" height="1" fill="#b5c7d0" shape-rendering="crispEdges"/>
<text x="1806.3" y="653.0" textLength="43.4" lengthAdjust="spacingAndGlyphs">1506.89</text>
<rect x="1798" y="685" width="6" height="1" fill="#b5c7d0" shape-rendering="crispEdges"/>
<text x="1806.3" y="690.1" textLength="43.4" lengthAdjust="spacingAndGlyphs">1472.73</text>
<text x="1806.3" y="722.1" textLength="43.4" lengthAdjust="spacingAndGlyphs">1438.58</text>
</g>
<g id="xaxis" font-size="12" fill="#2a2a2a">
<rect x="5" y="722" width="1" height="4" fill="#b5c7d0" shape-rendering="crispEdges"/>
<text x="5.4" y="735" textLength="59.5" lengthAdjust="spacingAndGlyphs">13.02.2020</text>
<rect x="138" y="722" width="1" height="4" fill="#b5c7d0" shape-rendering="crispEdges"/>
<text x="138.6" y="735" textLength="59.5" lengthAdjust="spacingAndGlyphs">15.03.2020</text>
<rect x="271" y="722" width="1" height="4" fill="#b5c7d0" shape-rendering="crispEdges"/>
<text x="271.9" y="735" textLength="59.5" lengthAdjust="spacingAndGlyphs">15.04.2020</text>
<rect x="404" y="722" width="1" height="4" fill="#b5c7d0" shape-rendering="crispEdges"/>
<text x="405.1" y="735" textLength="59.5" lengthAdjust="spacingAndGlyphs">18.05.2020</text>
<rect x="538" y="722" width="1" height="4" fill="#b5c7d0" shape-rendering="crispEdges"/>
<text x="538.3" y="735" textLength="59.5" lengthAdjust="spacingAndGlyphs">18.06.2020</text>
<rect x="671" y="722" width="1" height="4" fill="#b5c7d0" shape-rendering="crispEdges"/>
<text x="671.5" y="735" textLength="59.5" lengthAdjust="spacingAndGlyphs">21.07.2020</text>
<rect x="804" y="722" width="1" height="4" fill="#b5c7d0" shape-rendering="crispEdges"/>
<text x="804.8" y="735" textLength="59.5" lengthAdjust="spacingAndGlyphs">21.08.2020</text>
<rect x="937" y="722" width="1" height="4" fill="#b5c7d0" shape-rendering="crispEdges"/>
<text x="938.0" y="735" textLength="59.5" lengthAdjust="spacingAndGlyphs">01.10.2020</text>
<rect x="1071" y="722" width="1" height="4" fill="#b5c7d0" shape-rendering="crispEdges"/>
<text x="1071.2" y="735" textLength="59.5" lengthAdjust="spacingAndGlyphs">04.11.2020</text>
<rect x="1204" y="722" width="1" height="4" fill="#b5c7d0" shape-rendering="crispEdges"/>
<text x="1204.5" y="735" textLength="59.5" lengthAdjust="spacingAndGlyphs">07.12.2020</text>
<rect x="1337" y="722" width="1" height="4" fill="#b5c7d0" shape-rendering="crispEdges"/>
<text x="1337.7" y="735" textLength="59.5" lengthAdjust="spacingAndGlyphs">11.01.2021</text>
<rect x="1470" y="722" width="1" height="4" fill="#b5c7d0" shape-rendering="crispEdges"/>
<text x="1470.9" y="735" textLength="59.5" lengthAdjust="spacingAndGlyphs">11.02.2021</text>
<rect x="1604" y="722" width="1" height="4" fill="#b5c7d0" shape-rendering="crispEdges"/>
<text x="1604.2" y="735" textLength="59.5" lengthAdjust="spacingAndGlyphs">14.03.2021</text>
<rect x="1737" y="722" width="1" height="4" fill="#b5c7d0" shape-rendering="crispEdges"/>
<text x="1737.4" y="735" textLength="59.5" lengthAdjust="spacingAndGlyphs">06.04.2021</text>
</g>
<text x="1739.8" y="708.9" font-size="14.2" textLength="57.6" lengthAdjust="spacingAndGlyphs" stroke-width="0.35" paint-order="stroke"><tspan fill="#ff8c1a" stroke="#ff8c1a">10</tspan><tspan fill="#b4bfc6" stroke="#b4bfc6">h </tspan><tspan fill="#ff8c1a" stroke="#ff8c1a">39</tspan><tspan fill="#b4bfc6" stroke="#b4bfc6">m</tspan></text>
<rect x="1750" y="400" width="48" height="15" fill="#e53535" shape-rendering="crispEdges"/>
<text x="1754.7" y="410.8" font-size="10" fill="#fff" textLength="35.6" lengthAdjust="spacingAndGlyphs">1730.00</text>
<rect x="1750" y="455" width="48" height="15" fill="#0db17a" shape-rendering="crispEdges"/>
<text x="1754.7" y="465.8" font-size="10" fill="#fff" textLength="35.6" lengthAdjust="spacingAndGlyphs">1680.00</text>
<path d="M1793.5 433.5L1802 425H1854V442H1802Z" fill="#455a64"/>
<text x="1806.8" y="437.8" font-size="12" font-weight="bold" fill="#fff" textLength="43" lengthAdjust="spacingAndGlyphs">1705.45</text>
<text x="20.1" y="26" font-size="10.6" font-weight="bold" fill="#3b4c55" textLength="27.8" lengthAdjust="spacingAndGlyphs">GOLD</text>
<text x="58.7" y="24.9" font-size="8.6" font-weight="bold" fill="#7f97a3" textLength="17.2" lengthAdjust="spacingAndGlyphs">CMD</text>
<path d="M83.3 19.2h7.5l-3.75 3.8z" fill="#bdbdbd"/>
<rect x="123.5" y="13.5" width="35" height="17" rx="3" ry="3" fill="#fff" stroke="#dfe3e6" stroke-width="1"/>
<text x="128.7" y="26" font-size="9.8" fill="#56686f" textLength="9.9" lengthAdjust="spacingAndGlyphs">D1</text>
<path d="M147.3 21.2h7.5l-3.75 3.9z" fill="#bdbdbd"/>
</svg></body></html>
